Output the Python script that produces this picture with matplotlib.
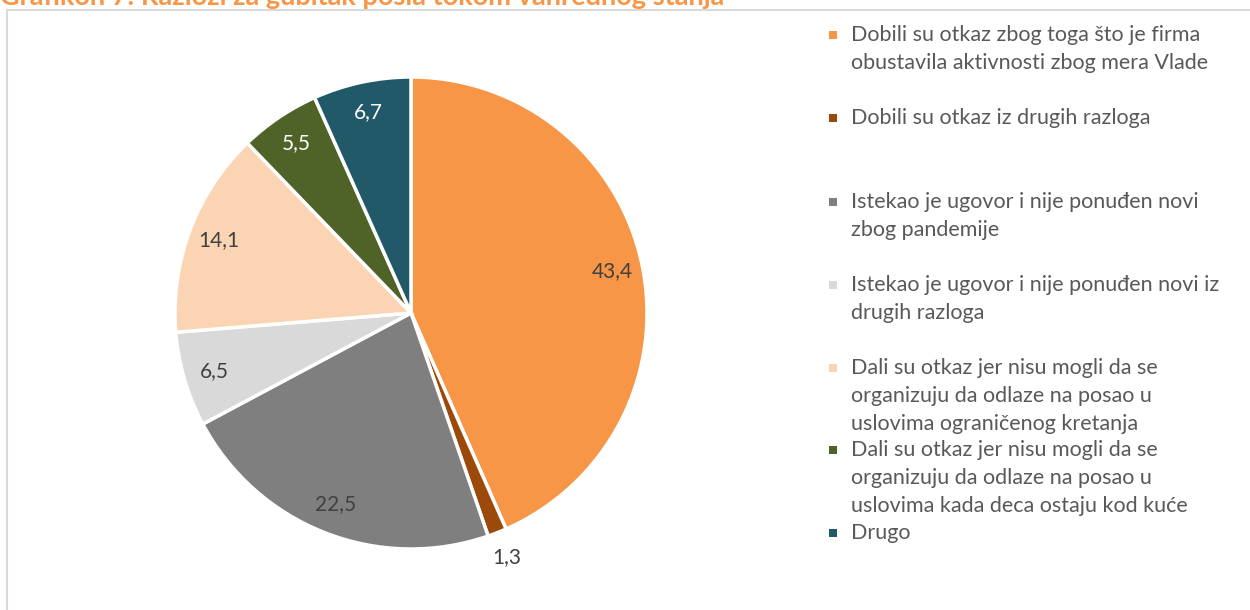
import matplotlib
matplotlib.use("Agg")
import matplotlib.pyplot as plt
import numpy as np
from matplotlib.patches import Rectangle

plt.rcParams['font.family'] = ['Lato', 'DejaVu Sans']

categories = [
    "Dobili su otkaz zbog toga što je firma\nobustavila aktivnosti zbog mera Vlade",
    "Dobili su otkaz iz drugih razloga",
    "Istekao je ugovor i nije ponuđen novi\nzbog pandemije",
    "Istekao je ugovor i nije ponuđen novi iz\ndrugih razloga",
    "Dali su otkaz jer nisu mogli da se\norganizuju da odlaze na posao u\nuslovima ograničenog kretanja",
    "Dali su otkaz jer nisu mogli da se\norganizuju da odlaze na posao u\nuslovima kada deca ostaju kod kuće",
    "Drugo",
]
values = [43.4, 1.3, 22.5, 6.5, 14.1, 5.5, 6.7]
value_labels = ["43,4", "1,3", "22,5", "6,5", "14,1", "5,5", "6,7"]
colors = ["#F79646", "#9C4A0A", "#7F7F7F", "#D9D9D9", "#FBD4B4", "#4F6228", "#215968"]
label_colors = ["#404040", "#404040", "#404040", "#404040", "#404040", "white", "white"]
title = "Grafikon 7: Razlozi za gubitak posla tokom vanrednog stanja"

W, H = 1250, 610
fig = plt.figure(figsize=(W / 100, H / 100), dpi=100)

# frame
fig.patches.append(Rectangle((6.5 / W, -0.05), 1.2, 1 - 9.5 / H + 0.05,
                             transform=fig.transFigure, fill=False,
                             edgecolor="#D9D9D9", linewidth=1.5))

fig.text(0.0, 1 - 5 / H, title, fontsize=19.5, fontweight="bold",
         color="#F79646", va="baseline", ha="left")

cx, cy, R = 411, 313, 236
ax = fig.add_axes([(cx - R) / W, (H - cy - R) / H, 2 * R / W, 2 * R / H])
wedges, _ = ax.pie(values, colors=colors, startangle=90, counterclock=False,
                   radius=1, wedgeprops=dict(edgecolor="white", linewidth=2.5))
ax.set_xlim(-1, 1)
ax.set_ylim(-1, 1)
ax.axis("off")

for w, lab, lc in zip(wedges, value_labels, label_colors):
    ang = np.deg2rad((w.theta1 + w.theta2) / 2)
    frac = (w.theta2 - w.theta1) / 360
    r = 1.11 if frac < 0.03 else 0.87
    ax.text(r * np.cos(ang), r * np.sin(ang), lab, ha="center", va="center",
            fontsize=15, color=lc)

# legend (manual, matching the reference's uneven spacing)
marker_centers = [35, 118, 202, 285, 368, 450, 533]
line_h = 28.2
for mc, cat, col in zip(marker_centers, categories, colors):
    fig.patches.append(Rectangle((829 / W, 1 - (mc + 4) / H), 8 / W, 8 / H,
                                 transform=fig.transFigure, facecolor=col,
                                 edgecolor="none"))
    for i, line in enumerate(cat.split("\n")):
        fig.text(851 / W, 1 - (mc + 6 + i * line_h) / H, line, fontsize=15.5,
                 color="#595959", va="baseline", ha="left")

fig.savefig("out.png", dpi=100)
